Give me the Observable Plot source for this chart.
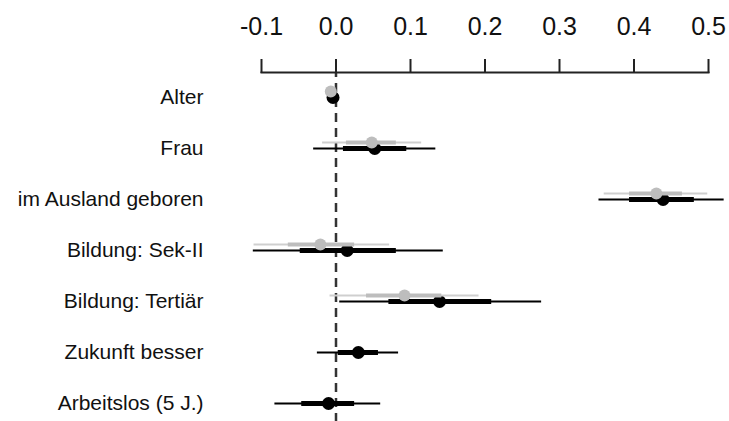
<!DOCTYPE html>
<html>
<head>
<meta charset="utf-8">
<script src="https://cdn.jsdelivr.net/npm/d3@7"></script>
<script src="https://cdn.jsdelivr.net/npm/@observablehq/plot@0.6"></script>
<style>
  html, body { margin: 0; padding: 0; background: #fff; }
</style>
</head>
<body>
<div id="chart"></div>
<script>
const categories = ["Alter", "Frau", "im Ausland geboren", "Bildung: Sek-II", "Bildung: Tertiär", "Zukunft besser", "Arbeitslos (5 J.)"];
const xTicks = [-0.1, 0.0, 0.1, 0.2, 0.3, 0.4, 0.5];

// Grey model (first five terms)
const greyTerms = ["Alter", "Frau", "im Ausland geboren", "Bildung: Sek-II", "Bildung: Tertiär"];
const greyEst    = [-0.007, 0.048, 0.430, -0.021, 0.092];
const greyLo95   = [-0.009, -0.018, 0.360, -0.110, -0.008];
const greyHi95   = [-0.005, 0.115, 0.499, 0.072, 0.192];
const greyLo68   = [-0.008, 0.014, 0.394, -0.064, 0.041];
const greyHi68   = [-0.006, 0.081, 0.465, 0.025, 0.142];

// Black model (all terms)
const blackTerms = categories;
const blackEst   = [-0.004, 0.052, 0.439, 0.015, 0.139, 0.030, -0.010];
const blackLo95  = [-0.006, -0.030, 0.353, -0.111, 0.005, -0.025, -0.082];
const blackHi95  = [-0.002, 0.134, 0.521, 0.144, 0.276, 0.084, 0.060];
const blackLo68  = [-0.005, 0.010, 0.394, -0.048, 0.071, 0.003, -0.046];
const blackHi68  = [-0.003, 0.095, 0.481, 0.081, 0.209, 0.057, 0.025];

const grey = greyTerms.map((t, i) => ({term: t, est: greyEst[i], lo95: greyLo95[i], hi95: greyHi95[i], lo68: greyLo68[i], hi68: greyHi68[i]}));
const black = blackTerms.map((t, i) => ({term: t, est: blackEst[i], lo95: blackLo95[i], hi95: blackHi95[i], lo68: blackLo68[i], hi68: blackHi68[i]}));

const greyDy = -6;

const chart = Plot.plot({
  width: 729,
  height: 421,
  marginTop: 72,
  marginLeft: 261,
  marginRight: 21,
  marginBottom: 0,
  style: {fontFamily: "'Liberation Sans', Arial, Helvetica, sans-serif", color: "#111", background: "#fff"},
  x: {domain: [-0.1, 0.5], axis: null},
  y: {type: "point", domain: categories, range: [95, 405], padding: 0, axis: null},
  marks: [
    Plot.ruleX([0], {x: d => d, stroke: "#333", strokeWidth: 2.5, strokeDasharray: "9,6", strokeDashoffset: 4}),
    Plot.frame({anchor: "top", stroke: "#222", strokeWidth: 2}),
    Plot.axisX({anchor: "top", ticks: xTicks, tickFormat: d => d.toFixed(1), tickSize: 14, tickPadding: 24, fontSize: 25, strokeWidth: 2, stroke: "#222", label: null}),
    Plot.axisY({tickSize: 0, tickPadding: 58, fontSize: 21, label: null}),
    // black model
    Plot.ruleY(black, {y: "term", x1: "lo95", x2: "hi95", stroke: "#000", strokeWidth: 2}),
    Plot.ruleY(black, {y: "term", x1: "lo68", x2: "hi68", stroke: "#000", strokeWidth: 5}),
    Plot.dot(black, {y: "term", x: "est", r: 6.5, fill: "#000", stroke: "none"}),
    // grey model
    Plot.ruleY(grey, {y: "term", x1: "lo95", x2: "hi95", stroke: "#cfcfcf", strokeWidth: 2, dy: greyDy}),
    Plot.ruleY(grey, {y: "term", x1: "lo68", x2: "hi68", stroke: "#bdbdbd", strokeWidth: 4, dy: greyDy}),
    Plot.dot(grey, {y: "term", x: "est", r: 6, fill: "#bdbdbd", stroke: "none", dy: greyDy})
  ]
});
document.getElementById("chart").appendChild(chart);
</script>
</body>
</html>
